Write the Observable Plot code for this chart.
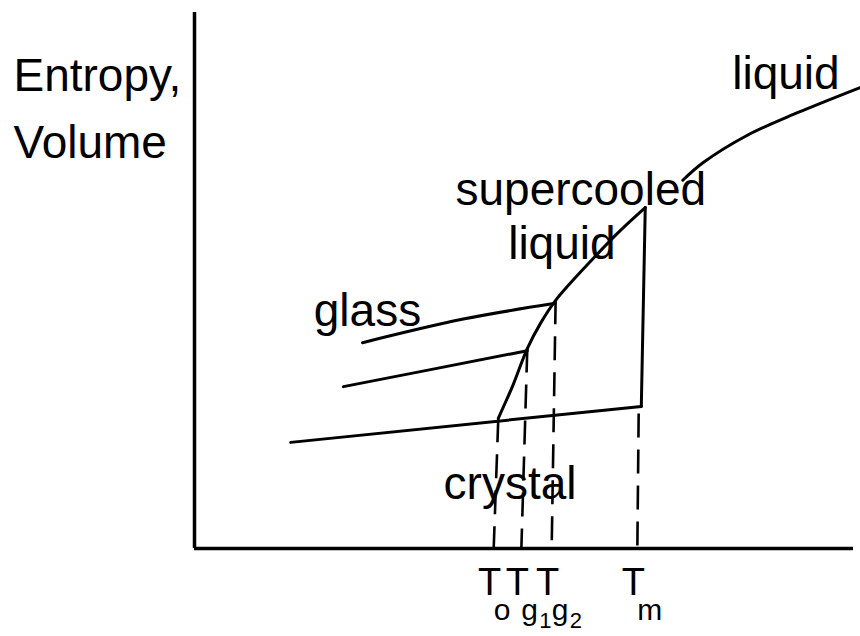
<!DOCTYPE html>
<html>
<head>
<meta charset="utf-8">
<script src="https://cdn.jsdelivr.net/npm/d3@7"></script>
<script src="https://cdn.jsdelivr.net/npm/@observablehq/plot@0.6"></script>
<style>
  html, body { margin: 0; padding: 0; background: #fff; }
  #chart { width: 860px; height: 636px; }
</style>
</head>
<body>
<div id="chart"></div>
<script>
// ---- Data (temperature units on x, entropy/volume units on y) ----
// Equilibrium liquid branch above Tm
const liquidT = [74.1, 77.2, 83.9, 91.5, 101.0];
const liquidS = [68.7, 72.0, 77.1, 81.3, 86.0];

// Supercooled liquid branch (from T0 up to Tm)
const supercooledT = [46.1, 48.3, 50.5, 52.5, 54.8, 60.5, 64.6, 68.4];
const supercooledS = [24.3, 30.4, 37.3, 42.0, 46.3, 54.1, 59.3, 63.6];

// Glass branches
const glass1T = [25.5, 40.8, 54.5];
const glass1S = [38.4, 42.8, 45.7];
const glass2T = [22.6, 48.0, 50.5];
const glass2S = [30.2, 36.3, 36.9];

// Crystal branch
const crystalT = [14.6, 67.8];
const crystalS = [19.8, 26.5];

// Melting jump at Tm
const meltT = [67.8, 68.4];
const meltS = [26.5, 63.6];

// Characteristic temperatures (dashed drop lines to the axis)
const tickNames = ["T", "T", "T", "T"];
const tickSubs = ["o", "g", "g", "m"];
const tickDigits = ["", "1", "2", ""];
const tickValues = [45.4, 49.6, 54.2, 67.2];
const dropTopT = [46.1, 50.5, 54.8, 67.4];
const dropTopS = [24.3, 37.3, 46.3, 25.2];

// Annotations
const labelText = ["liquid", "supercooled", "liquid", "glass", "crystal"];
const labelT = [81.6, 39.6, 47.6, 18.1, 37.8];
const labelS = [85.8, 64.0, 54.1, 41.6, 9.3];

const axisTitle = "Entropy,\nVolume";

const pts = (xs, ys) => xs.map((x, i) => ({x, y: ys[i]}));
const drops = tickValues.map((v, i) => ({x1: dropTopT[i], y1: dropTopS[i], x2: v, y2: 0}));

const font = "Liberation Sans, Arial, sans-serif";
const lineStyle = {stroke: "black", strokeWidth: 3, strokeLinecap: "round", strokeLinejoin: "round"};

const chart = Plot.plot({
  width: 860,
  height: 636,
  marginLeft: 194,
  marginRight: 7,
  marginTop: 12,
  marginBottom: 88,
  x: {domain: [0, 100], axis: null},
  y: {domain: [0, 100], axis: null},
  style: {fontFamily: font, background: "white", color: "black", overflow: "visible"},
  marks: [
    Plot.ruleX([0], {stroke: "black", strokeWidth: 3.5}),
    Plot.ruleY([0], {stroke: "black", strokeWidth: 3.5}),
    Plot.link(drops, {x1: "x1", y1: "y1", x2: "x2", y2: "y2", stroke: "black", strokeWidth: 2.6, strokeDasharray: "24,12"}),
    Plot.line(pts(crystalT, crystalS), {x: "x", y: "y", ...lineStyle}),
    Plot.line(pts(meltT, meltS), {x: "x", y: "y", ...lineStyle}),
    Plot.line(pts(glass1T, glass1S), {x: "x", y: "y", curve: "catmull-rom", ...lineStyle}),
    Plot.line(pts(glass2T, glass2S), {x: "x", y: "y", curve: "catmull-rom", ...lineStyle}),
    Plot.line(pts(supercooledT, supercooledS), {x: "x", y: "y", curve: "catmull-rom", ...lineStyle}),
    Plot.line(pts(liquidT, liquidS), {x: "x", y: "y", curve: "catmull-rom", ...lineStyle}),
    Plot.text(labelText, {x: labelT, y: labelS, text: d => d, textAnchor: "start", lineAnchor: "bottom", fontSize: 46, fill: "black"}),
    Plot.text([axisTitle], {frameAnchor: "top-left", text: d => d, textAnchor: "start", lineAnchor: "top", lineHeight: 1.46, dx: -181, dy: 31, fontSize: 46, fill: "black"}),
    Plot.text(tickNames, {x: tickValues, text: d => d, frameAnchor: "bottom", textAnchor: "middle", lineAnchor: "bottom", dx: -4, dy: 46, fontSize: 38, fill: "black"}),
    Plot.text(tickSubs, {x: tickValues, text: d => d, frameAnchor: "bottom", textAnchor: "start", lineAnchor: "bottom", dx: 0, dy: 71, fontSize: 30, fill: "black"}),
    Plot.text(tickDigits, {x: tickValues, text: d => d, frameAnchor: "bottom", textAnchor: "start", lineAnchor: "bottom", dx: 18, dy: 79, fontSize: 22, fill: "black"})
  ]
});
document.getElementById("chart").append(chart);
</script>
</body>
</html>
